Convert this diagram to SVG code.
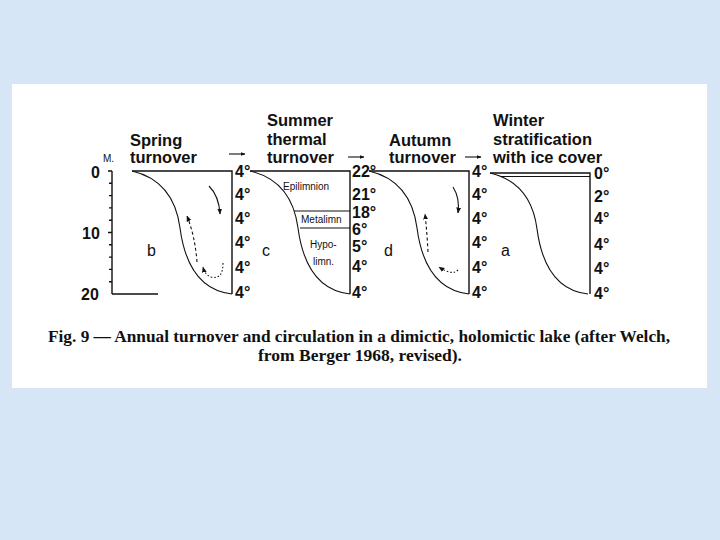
<svg xmlns="http://www.w3.org/2000/svg" xmlns:xlink="http://www.w3.org/1999/xlink" width="720" height="540" viewBox="0 0 720 540">
<style>
.ttl{font-family:"Liberation Sans",Arial,sans-serif;font-weight:bold;font-size:16.5px;fill:#111}
.deg{font-family:"Liberation Sans",Arial,sans-serif;font-weight:bold;font-size:16px;fill:#111}
.ax{font-family:"Liberation Sans",Arial,sans-serif;font-weight:bold;font-size:16px;fill:#111}
.let{font-family:"Liberation Sans",Arial,sans-serif;font-size:16px;fill:#111}
.sm{font-family:"Liberation Sans",Arial,sans-serif;font-size:10px;fill:#111}
.cap{font-family:"Liberation Serif","Times New Roman",serif;font-weight:bold;font-size:17.5px;fill:#111}
.ln{stroke:#111;stroke-width:1.4;fill:none}
.cv{stroke:#111;stroke-width:1.1;fill:none}
.ar{stroke:#111;stroke-width:1.1;fill:none}
</style>
<defs>
<path id="curve" d="M0,0 C30,7 44,27 48,57 C52,87 64,119 100,123"/>
<marker id="ah" viewBox="0 0 10 10" refX="9" refY="5" markerWidth="6" markerHeight="6" orient="auto" markerUnits="userSpaceOnUse">
<path d="M0,1 L10,5 L0,9 z" fill="#111"/>
</marker>
<marker id="ahs" viewBox="0 0 10 10" refX="9" refY="5" markerWidth="5" markerHeight="5" orient="auto" markerUnits="userSpaceOnUse">
<path d="M0,1 L10,5 L0,9 z" fill="#111"/>
</marker>
</defs>
<rect x="0" y="0" width="720" height="540" fill="#d6e6f7"/>
<rect x="12" y="84" width="695" height="304" fill="#ffffff"/>

<g id="axis">
<text class="sm" x="103" y="162" font-size="8">M.</text>
<text class="ax" x="91" y="178">0</text>
<text class="ax" x="82" y="239">10</text>
<text class="ax" x="81" y="300">20</text>
<path class="ln" d="M112,171 V294 M108,171 H112 M109,183.3 H112 M109,195.6 H112 M109,207.9 H112 M109,220.2 H112 M108,232.5 H112 M109,244.8 H112 M109,257.1 H112 M109,269.4 H112 M109,281.7 H112 M112,294 H158"/>
</g>

<g id="spring">
<text class="ttl" x="130" y="146">Spring</text>
<text class="ttl" x="130" y="163">turnover</text>
<path class="ln" d="M132,171 H232 V294"/>
<use xlink:href="#curve" class="cv" transform="translate(132,171)"/>
<text class="let" x="147" y="256">b</text>
<text class="deg" x="235" y="177">4°</text>
<text class="deg" x="235" y="200">4°</text>
<text class="deg" x="235" y="224">4°</text>
<text class="deg" x="235" y="248">4°</text>
<text class="deg" x="235" y="273">4°</text>
<text class="deg" x="235" y="298">4°</text>
</g>

<g id="summer">
<text class="ttl" x="267" y="126">Summer</text>
<text class="ttl" x="267" y="145">thermal</text>
<text class="ttl" x="267" y="163">turnover</text>
<path class="ln" d="M250,171 H350 V294"/>
<use xlink:href="#curve" class="cv" transform="translate(250,171)"/>
<path class="cv" d="M294,211 H350 M300,228 H350"/>
<text class="sm" x="283" y="190">Epilimnion</text>
<text class="sm" x="301" y="223">Metalimn</text>
<text class="sm" x="310" y="248">Hypo-</text>
<text class="sm" x="313" y="265">limn.</text>
<text class="let" x="262" y="256">c</text>
<text class="deg" x="352" y="177">22°</text>
<text class="deg" x="352" y="200">21°</text>
<text class="deg" x="352" y="218">18°</text>
<text class="deg" x="352" y="235">6°</text>
<text class="deg" x="352" y="252">5°</text>
<text class="deg" x="352" y="272">4°</text>
<text class="deg" x="352" y="298">4°</text>
</g>

<g id="autumn">
<text class="ttl" x="389" y="146">Autumn</text>
<text class="ttl" x="389" y="163">turnover</text>
<path class="ln" d="M369,171 H469 V294"/>
<use xlink:href="#curve" class="cv" transform="translate(369,171)"/>
<text class="let" x="384" y="256">d</text>
<text class="deg" x="472" y="177">4°</text>
<text class="deg" x="472" y="200">4°</text>
<text class="deg" x="472" y="224">4°</text>
<text class="deg" x="472" y="248">4°</text>
<text class="deg" x="472" y="273">4°</text>
<text class="deg" x="472" y="298">4°</text>
</g>

<g id="winter">
<text class="ttl" x="493" y="126">Winter</text>
<text class="ttl" x="493" y="145">stratification</text>
<text class="ttl" x="493" y="163">with ice cover</text>
<path class="ln" d="M490,173 H590 V294" stroke-width="2.2"/>
<path class="cv" d="M500,176.5 H590"/>
<use xlink:href="#curve" class="cv" transform="translate(490,173) scale(0.98,0.984)"/>
<text class="let" x="501" y="256">a</text>
<text class="deg" x="594" y="179">0°</text>
<text class="deg" x="594" y="202">2°</text>
<text class="deg" x="594" y="224">4°</text>
<text class="deg" x="594" y="250">4°</text>
<text class="deg" x="594" y="274">4°</text>
<text class="deg" x="594" y="299">4°</text>
</g>

<g id="connectors">
<path class="ar" d="M229,154 H245" marker-end="url(#ahs)"/>
<path class="ar" d="M348,157 H364" marker-end="url(#ahs)"/>
<path class="ar" d="M465,157 H481" marker-end="url(#ahs)"/>
<path class="ar" d="M209,186 Q219,196 220,214" marker-end="url(#ah)"/>
<path class="ar" d="M197,262 Q195,236 187,216" stroke-dasharray="3,2.5" marker-end="url(#ah)"/>
<path class="ar" d="M223,263 Q223,280 211,277 Q205,275 203,267" stroke-dasharray="1.5,2" marker-end="url(#ah)"/>
<path class="ar" d="M453,187 Q460,198 458,213" marker-end="url(#ah)"/>
<path class="ar" d="M428,252 Q427,232 425,214" stroke-dasharray="3,2.5" marker-end="url(#ah)"/>
<path class="ar" d="M458,270 Q452,276 439,267" stroke-dasharray="1.5,2" marker-end="url(#ah)"/>
</g>

<g id="caption">
<text class="cap" x="48" y="342" textLength="622" lengthAdjust="spacingAndGlyphs">Fig. 9 — Annual turnover and circulation in a dimictic, holomictic lake (after Welch,</text>
<text class="cap" x="258" y="361" textLength="204" lengthAdjust="spacingAndGlyphs">from Berger 1968, revised).</text>
</g>
</svg>
